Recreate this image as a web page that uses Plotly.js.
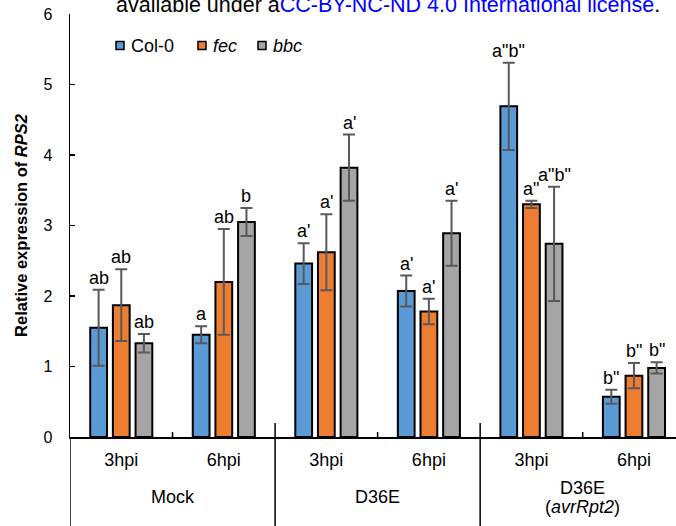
<!DOCTYPE html>
<html><head><meta charset="utf-8">
<script src="https://cdn.plot.ly/plotly-3.0.1.min.js"></script>
<style>html,body{margin:0;padding:0;background:#fff;}#chart{width:676px;height:526px;}</style>
</head><body><div id="chart"></div>
<script>
// ---- data ----
const treatments = ["Mock", "D36E", "D36E<br>(<i>avrRpt2</i>)"];
const times = ["3hpi", "6hpi"];
const seriesNames = ["Col-0", "<i>fec</i>", "<i>bbc</i>"];

const col0 = [1.55, 1.45, 2.46, 2.07, 4.69, 0.57];
const col0Err = [0.54, 0.12, 0.29, 0.22, 0.62, 0.10];
const col0Letters = ["ab", "a", "a'", "a'", "a\"b\"", "b\""];

const fec = [1.87, 2.20, 2.62, 1.78, 3.30, 0.87];
const fecErr = [0.51, 0.75, 0.54, 0.18, 0.05, 0.18];
const fecLetters = ["ab", "ab", "a'", "a'", "a\"", "b\""];

const bbc = [1.33, 3.05, 3.82, 2.89, 2.74, 0.98];
const bbcErr = [0.13, 0.20, 0.47, 0.46, 0.81, 0.08];
const bbcLetters = ["ab", "b", "a'", "a'", "a\"b\"", "b\""];

const yTicks = [0, 1, 2, 3, 4, 5, 6];

// ---- build ----
const FONT = "Liberation Sans, Arial, sans-serif";
const colors = ["#5B9BD5", "#ED7D31", "#A5A5A5"];
const values = [col0, fec, bbc];
const errs = [col0Err, fecErr, bbcErr];
const letters = [col0Letters, fecLetters, bbcLetters];
const xLabels = treatments.flatMap(() => times);
const xIdx = xLabels.map((_, i) => i);

const BARGAP = 0.337;
const slot = (1 - BARGAP) / 3;

const traces = values.map((v, k) => ({
  type: "bar",
  name: seriesNames[k],
  x: xIdx,
  y: v,
  showlegend: false,
  marker: {color: colors[k], line: {color: "#000", width: 2}},
  error_y: {type: "data", array: errs[k], visible: true, color: "#595959", thickness: 2, width: 6},
  hoverinfo: "skip"
}));

const PH = 423, PW = 606, L = 70, AX0 = 437;
const pyPaper = (py) => (AX0 - py) / PH;
const pxPaper = (px) => (px - L) / PW;

const annotations = [];
letters.forEach((arr, k) => {
  arr.forEach((t, i) => {
    annotations.push({
      xref: "x", yref: "y", x: i + (k - 1) * slot, y: values[k][i] + errs[k][i],
      text: t, showarrow: false, yanchor: "bottom", xanchor: "center",
      font: {family: FONT, size: 18, color: "#000"}
    });
  });
});

// group labels (multi-line split)
treatments.forEach((g, j) => {
  const lines = g.split("<br>");
  const centers = lines.length === 1 ? [497] : [488, 507];
  lines.forEach((ln, m) => {
    annotations.push({
      xref: "x", yref: "paper", x: 2 * j + 0.5, y: pyPaper(centers[m]),
      text: ln, showarrow: false, yanchor: "middle", xanchor: "center",
      font: {family: FONT, size: 18, color: "#000"}, borderpad: 0
    });
  });
});

// custom legend
const legendSquareX = [116, 198, 258];
const shapes = [];
seriesNames.forEach((n, k) => {
  const x0 = legendSquareX[k];
  shapes.push({type: "rect", xref: "paper", yref: "paper",
    x0: pxPaper(x0), x1: pxPaper(x0 + 8), y0: pyPaper(49.5), y1: pyPaper(41.5),
    fillcolor: colors[k], line: {color: "#000", width: 1.5}});
  annotations.push({xref: "paper", yref: "paper", x: pxPaper(x0 + 13), y: pyPaper(45.5),
    xanchor: "left", yanchor: "middle", text: n, showarrow: false,
    font: {family: FONT, size: 18, color: "#000"}});
});

// watermark text at top
annotations.push({
  xref: "paper", yref: "paper", x: pxPaper(114), y: pyPaper(4.5), xanchor: "left", yanchor: "middle",
  text: 'available under a<span style="color:#0000ff">CC-BY-NC-ND 4.0 International license</span>.',
  showarrow: false, font: {family: FONT, size: 21.5, color: "#000"}
});

// group dividers (including extension of y axis)
[-0.5, 1.5, 3.5].forEach((xv, j) => {
  shapes.push({type: "line", xref: "x", yref: "paper", x0: xv, x1: xv,
    y0: pyPaper(530), y1: j === 0 ? 0 : pyPaper(423), line: {color: "#000", width: 1.5}});
});
// minor ticks between time points
[0.5, 2.5, 4.5].forEach((xv) => {
  shapes.push({type: "line", xref: "x", yref: "paper", x0: xv, x1: xv,
    y0: 0, y1: pyPaper(432), line: {color: "#000", width: 1.5}});
});

const layout = {
  width: 676, height: 526,
  margin: {l: 70, r: 0, t: 14, b: 89, pad: 0},
  paper_bgcolor: "#fff", plot_bgcolor: "#fff",
  barmode: "group", bargap: BARGAP, bargroupgap: 0.26,
  showlegend: false,
  font: {family: FONT, color: "#000"},
  xaxis: {
    range: [-0.5, 5.41], tickmode: "array", tickvals: xIdx, ticktext: xLabels,
    showline: true, linecolor: "#000", linewidth: 1.5, ticks: "", showgrid: false, zeroline: false,
    tickfont: {family: FONT, size: 18, color: "#000"}, ticklabelstandoff: 6, fixedrange: true
  },
  yaxis: {
    range: [0, 6], tickvals: yTicks, ticks: "inside", ticklen: 5, tickwidth: 1.5, tickcolor: "#000",
    showline: true, linecolor: "#000", linewidth: 1.5, showgrid: false, zeroline: false,
    tickfont: {family: FONT, size: 16, color: "#000"}, ticklabelstandoff: 13,
    title: {text: "<b>Relative expression of <i>RPS2</i></b>", font: {family: FONT, size: 16.5, color: "#000"}},
    fixedrange: true
  },
  annotations: annotations,
  shapes: shapes
};

Plotly.newPlot("chart", traces, layout, {displayModeBar: false, staticPlot: true});
</script></body></html>
